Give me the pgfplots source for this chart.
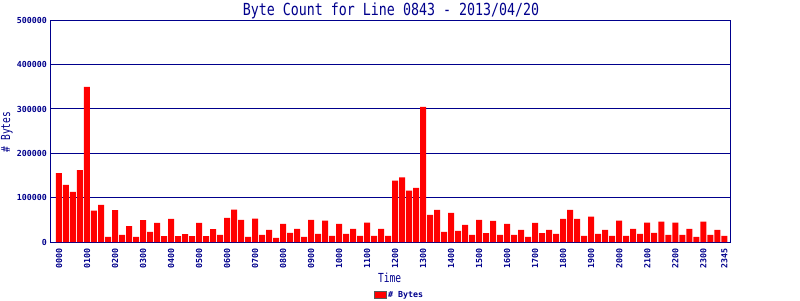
\documentclass[border=0pt]{standalone}
\usepackage{fontspec}
\setmainfont{DejaVu Sans Mono}
\usepackage{graphicx}
\usepackage{pgfplots}
\pgfplotsset{compat=1.18}
\definecolor{navy}{RGB}{0,0,140}
\newcommand\tickfont{\fontsize{8.3}{9}\selectfont\bfseries}
\newcommand\labfont{\fontsize{9.6}{10}\selectfont}
\begin{document}
\begin{tikzpicture}
\begin{axis}[
  at={(51pt,58pt)}, anchor=south west,
  scale only axis, width=679.3pt, height=221.7pt,
  xmin=-1.14, xmax=95.86, ymin=0, ymax=500000,
  axis line style={navy, line width=1pt},
  major tick length=0pt,
  scaled y ticks=false,
  ytick={0,100000,200000,300000,400000,500000},
  yticklabels={0,100000,200000,300000,400000,500000},
  yticklabel style={font=\tickfont, text=navy, inner sep=0pt},
  yticklabel shift=4pt,
  xtick={0,4,...,92,95},
  xticklabels={0000,0100,0200,0300,0400,0500,0600,0700,0800,0900,1000,1100,1200,1300,1400,1500,1600,1700,1800,1900,2000,2100,2200,2300,2345},
  xticklabel style={font=\tickfont, text=navy, rotate=90, anchor=east, inner sep=0pt},
  xticklabel shift=6pt,
  ymajorgrids, major grid style={navy, line width=1pt},
  legend style={at={(0.4755,-0.2404)}, anchor=west, draw=none, fill=none, inner sep=0pt, outer sep=0pt, font=\tickfont, text=navy,
    nodes={inner sep=1.8pt}},
  legend image code/.code={\draw[draw=gray!70!black, line width=0.8pt, fill=red] (0pt,-3.6pt) rectangle (11.5pt,3.6pt);},
]
\addplot[ybar, bar width=6pt, bar shift=0pt, fill=red, draw=none] table[x=i, y=v] {
i v
0 155600
1 129000
2 113000
3 162000
4 350000
5 70700
6 83500
7 11300
8 72000
9 15800
10 36000
11 11300
12 49600
13 22600
14 42900
15 13500
16 51900
17 13500
18 18000
19 13500
20 42900
21 13500
22 29300
23 15800
24 54500
25 73000
26 50000
27 11500
28 52700
29 16000
30 27500
31 9200
32 41000
33 20600
34 29800
35 11500
36 50000
37 18300
38 48000
39 13700
40 41000
41 18300
42 29800
43 13700
44 43500
45 13700
46 29800
47 13700
48 138500
49 145500
50 116000
51 122000
52 305000
53 61000
54 72300
55 22600
56 65600
57 24900
58 38400
59 15800
60 49700
61 20300
62 47500
63 15800
64 40700
65 15800
66 27100
67 11300
68 43000
69 20300
70 27100
71 18100
72 52000
73 72500
74 52300
75 13700
76 57300
77 18300
78 27500
79 13700
80 48000
81 13700
82 29800
83 18300
84 43500
85 20600
86 45800
87 16000
88 43500
89 16000
90 29800
91 11500
92 45800
93 16000
94 27500
95 13700
};
\addlegendentry{\# Bytes}
\end{axis}
\node[anchor=base, text=navy, inner sep=0pt] at (391pt,284pt) {\scalebox{1}[1.25]{\fontsize{13.3}{14}\selectfont Byte Count for Line 0843 - 2013/04/20}};
\node[anchor=base, text=navy, inner sep=0pt] at (389.7pt,17.7pt) {\scalebox{1}[1.3]{\labfont Time}};
\node[anchor=base, text=navy, inner sep=0pt, rotate=90] at (10pt,168pt) {\scalebox{1}[1.3]{\labfont\# Bytes}};
\pgfresetboundingbox
\useasboundingbox (0pt,0pt) rectangle (800pt,300pt);
\end{tikzpicture}
\end{document}
